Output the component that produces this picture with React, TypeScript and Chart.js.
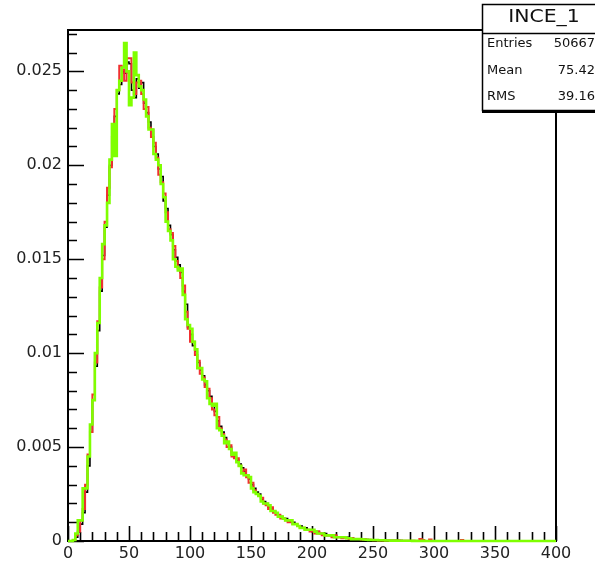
import React, { useEffect, useRef } from "react";
import { Chart, registerables } from "chart.js";

Chart.register(...registerables);

// ---------- data ----------
const BIN_WIDTH = 2;
const X_MIN = 0;
const X_MAX = 400;
const Y_MIN = 0;
const Y_MAX = 0.0272;

const xTickValues = [0, 50, 100, 150, 200, 250, 300, 350, 400];
const xTickLabels = ["0", "50", "100", "150", "200", "250", "300", "350", "400"];
const yTickValues = [0, 0.005, 0.01, 0.015, 0.02, 0.025];
const yTickLabels = ["0", "0.005", "0.01", "0.015", "0.02", "0.025"];

const statsTitle = "INCE_1";
const statsLabels = ["Entries", "Mean", "RMS"];
const statsValues = ["50667", "75.42", "39.16"];

const seriesBlack = [
  0, 0, 0, 0.00005, 0.0002, 0.0005, 0.0009, 0.0015, 0.0026, 0.004,
  0.0058, 0.0075, 0.0093, 0.0112, 0.0133, 0.0152, 0.0167, 0.0184, 0.02, 0.0213,
  0.0226, 0.0238, 0.0243, 0.025, 0.0249, 0.0255, 0.0254, 0.024, 0.0236, 0.0246,
  0.0241, 0.0244, 0.0233, 0.0228, 0.0223, 0.0219, 0.021, 0.0206, 0.0198, 0.0194,
  0.0181, 0.0177, 0.0168, 0.0163, 0.0155, 0.0151, 0.0147, 0.0143, 0.0133, 0.0126,
  0.0114, 0.011, 0.0104, 0.0101, 0.0095, 0.0091, 0.0088, 0.0083, 0.008, 0.0077,
  0.0073, 0.0069, 0.0064, 0.0061, 0.0058, 0.0055, 0.0052, 0.005, 0.0047, 0.0045,
  0.0043, 0.0041, 0.0039, 0.0037, 0.0035, 0.0033, 0.003, 0.0028, 0.0026, 0.0025,
  0.0022, 0.0021, 0.002, 0.0018, 0.0017, 0.0016, 0.0015, 0.0014, 0.0013, 0.0012,
  0.0012, 0.0011, 0.001, 0.001, 0.0009, 0.0008, 0.0008, 0.0007, 0.0007, 0.0006,
  0.0006, 0.0005, 0.0005, 0.0005, 0.0004, 0.0004, 0.0004, 0.0003, 0.0003, 0.0003,
  0.0003, 0.0002, 0.0002, 0.0002, 0.0002, 0.0002, 0.00015, 0.00015, 0.00012, 0.00012,
  0.0001, 0.0001, 0.00008, 0.00008, 0.00007, 0.00006, 0.00006, 0.00005, 0.00005, 0.00004,
  0.00004, 0.00003, 0.00003, 0.00003, 0.00002, 0.00002, 0.00002, 0.00002, 0.00001, 0.00001,
  0.00001, 0.00001, 0.00001, 0.00001, 0, 0.00001, 0, 0.00001, 0, 0,
  0, 0, 0, 0, 0, 0, 0, 0, 0, 0,
  0, 0, 0, 0, 0, 0, 0, 0, 0, 0,
  0, 0, 0, 0, 0, 0, 0, 0, 0, 0,
  0, 0, 0, 0, 0, 0, 0, 0, 0, 0,
  0, 0, 0, 0, 0, 0, 0, 0, 0, 0,
];

const seriesRed = [
  0, 0, 0, 0.00005, 0.0003, 0.0005, 0.0011, 0.0017, 0.003, 0.0046,
  0.0058, 0.0078, 0.0095, 0.0117, 0.0135, 0.015, 0.017, 0.0188, 0.0199, 0.0215,
  0.023, 0.024, 0.0253, 0.0251, 0.0245, 0.0257, 0.0257, 0.0244, 0.0238, 0.0244,
  0.0245, 0.0238, 0.023, 0.0231, 0.022, 0.0215, 0.0212, 0.0204, 0.0195, 0.0191,
  0.0185, 0.0175, 0.0166, 0.0164, 0.0157, 0.0149, 0.0145, 0.014, 0.0136, 0.0122,
  0.0113, 0.0106, 0.0106, 0.0099, 0.0096, 0.0089, 0.0087, 0.0082, 0.0081, 0.0076,
  0.007, 0.0067, 0.0066, 0.006, 0.0057, 0.0054, 0.005, 0.0051, 0.0045, 0.0044,
  0.0044, 0.004, 0.0037, 0.0038, 0.0034, 0.0031, 0.0031, 0.0027, 0.0025, 0.0024,
  0.0023, 0.002, 0.0019, 0.0017, 0.0018, 0.0015, 0.0014, 0.0014, 0.0012, 0.0012,
  0.0011, 0.001, 0.001, 0.0009, 0.0009, 0.0008, 0.0007, 0.0007, 0.0006, 0.0006,
  0.0005, 0.0005, 0.0004, 0.0005, 0.0004, 0.0003, 0.0003, 0.0003, 0.0003, 0.0002,
  0.0003, 0.0002, 0.0002, 0.00015, 0.0002, 0.00015, 0.0001, 0.00015, 0.0001, 0.0001,
  0.0001, 0.00008, 0.0001, 0.00006, 0.00006, 0.00005, 0.00004, 0.00005, 0.00003, 0.00004,
  0.00003, 0.00003, 0.00002, 0.00003, 0.00002, 0.00001, 0.00002, 0.00001, 0.00001, 0.00001,
  0.00001, 0, 0.00001, 0, 0, 0.0001, 0.00005, 0, 0, 0.00008,
  0, 0, 0, 0, 0, 0, 0, 0, 0, 0,
  0, 0, 0.00005, 0, 0, 0, 0, 0, 0, 0,
  0, 0, 0, 0, 0, 0, 0, 0, 0, 0,
  0, 0, 0, 0, 0, 0, 0, 0, 0, 0,
  0, 0, 0, 0, 0, 0, 0, 0, 0, 0,
];

const seriesGreen = [
  0, 0, 0, 0.00005, 0.0004, 0.0011, 0.0011, 0.0028, 0.0028, 0.0045,
  0.0062, 0.0075, 0.01, 0.0116, 0.014, 0.0158, 0.0168, 0.018, 0.0203, 0.0222,
  0.0205, 0.024, 0.0245, 0.0252, 0.0265, 0.025, 0.0232, 0.0236, 0.026, 0.0248,
  0.0242, 0.024, 0.0235, 0.0226, 0.0219, 0.0219, 0.0206, 0.0203, 0.02, 0.019,
  0.0183, 0.017, 0.0165, 0.016, 0.015, 0.0146, 0.0144, 0.0145, 0.0131, 0.0118,
  0.0115, 0.0113, 0.0106, 0.0102, 0.0092, 0.0092, 0.0086, 0.0085, 0.0076, 0.0073,
  0.0072, 0.0073, 0.006, 0.0059, 0.0056, 0.0052, 0.0053, 0.0049, 0.0046, 0.0047,
  0.0042, 0.004, 0.0036, 0.0035, 0.0035, 0.0034, 0.0028, 0.0026, 0.0025, 0.0024,
  0.0021, 0.002, 0.002, 0.0019, 0.0016, 0.0016, 0.0015, 0.0013, 0.0013, 0.0012,
  0.0011, 0.0011, 0.0011, 0.0009, 0.0009, 0.0008, 0.0007, 0.0007, 0.0006, 0.0006,
  0.0006, 0.0006, 0.0005, 0.0004, 0.0004, 0.0004, 0.0003, 0.0003, 0.0003, 0.0003,
  0.0002, 0.0002, 0.0002, 0.0002, 0.0002, 0.00015, 0.00015, 0.0001, 0.0001, 0.0001,
  0.0001, 0.00009, 0.00008, 0.00007, 0.00006, 0.00005, 0.00005, 0.00005, 0.00004, 0.00004,
  0.00004, 0.00003, 0.00003, 0.00002, 0.00002, 0.00002, 0.00001, 0.00001, 0.00001, 0.00001,
  0.00001, 0.00001, 0, 0.00001, 0, 0, 0.00001, 0, 0, 0,
  0, 0, 0, 0, 0, 0, 0, 0, 0, 0,
  0, 0, 0, 0, 0, 0, 0, 0, 0, 0,
  0, 0, 0, 0, 0, 0, 0, 0, 0, 0,
  0, 0, 0, 0, 0, 0, 0, 0, 0, 0,
  0, 0, 0, 0, 0, 0, 0, 0, 0, 0,
];

// ---------- helpers ----------
function toStepPoints(values: number[]) {
  const pts = values.map((v, i) => ({ x: X_MIN + i * BIN_WIDTH, y: v }));
  pts.push({ x: X_MIN + values.length * BIN_WIDTH, y: values[values.length - 1] });
  return pts;
}

const FONT = "'DejaVu Sans', 'Liberation Sans', Arial, sans-serif";

const rootFramePlugin = {
  id: "rootFrame",
  beforeDatasetsDraw(chart: any) {
    const { ctx, chartArea } = chart;
    const xs = chart.scales.x;
    const ys = chart.scales.y;
    const { left, right, top, bottom } = chartArea;
    ctx.save();
    ctx.strokeStyle = "#000";
    ctx.lineWidth = 2;
    ctx.strokeRect(left, top, right - left, bottom - top);
    ctx.lineWidth = 1.6;
    ctx.beginPath();
    for (let v = X_MIN; v <= X_MAX + 0.001; v += 10) {
      const px = Math.round(xs.getPixelForValue(v)) + 0.5;
      const len = Math.abs(v % 50) < 0.001 ? 15 : 9;
      ctx.moveTo(px, bottom);
      ctx.lineTo(px, bottom - len);
    }
    for (let k = 0; k <= 27; k++) {
      const v = k * 0.001;
      const py = Math.round(ys.getPixelForValue(v)) + 0.5;
      const len = k % 5 === 0 ? 16 : 9;
      ctx.moveTo(left, py);
      ctx.lineTo(left + len, py);
    }
    ctx.stroke();
    ctx.restore();
  },
  afterDraw(chart: any) {
    const { ctx } = chart;
    const bx = 482;
    const by = 4;
    const bw = 130;
    const bh = 106;
    ctx.save();
    ctx.fillStyle = "#fff";
    ctx.fillRect(bx, by, bw, bh);
    ctx.strokeStyle = "#000";
    ctx.lineWidth = 1.5;
    ctx.strokeRect(bx + 0.5, by + 0.5, bw, bh);
    ctx.beginPath();
    ctx.moveTo(bx, 33.5);
    ctx.lineTo(bx + bw, 33.5);
    ctx.stroke();
    ctx.lineWidth = 3;
    ctx.beginPath();
    ctx.moveTo(bx, by + bh + 1.5);
    ctx.lineTo(bx + bw, by + bh + 1.5);
    ctx.stroke();

    ctx.fillStyle = "#111";
    ctx.textBaseline = "middle";
    // title
    ctx.save();
    ctx.font = `17px ${FONT}`;
    ctx.textAlign = "center";
    ctx.translate(544, 18);
    ctx.scale(1.2, 1);
    ctx.fillText(statsTitle, 0, 0);
    ctx.restore();
    // rows
    ctx.font = `13px ${FONT}`;
    const rowY = [44, 71, 97];
    statsLabels.forEach((lab, i) => {
      ctx.textAlign = "left";
      ctx.fillText(lab, 487, rowY[i]);
      ctx.textAlign = "right";
      ctx.fillText(statsValues[i], 595, rowY[i]);
    });
    ctx.restore();
  },
};

export default function App() {
  const canvasRef = useRef<HTMLCanvasElement | null>(null);

  useEffect(() => {
    const canvas = canvasRef.current;
    if (!canvas) return;
    const common = {
      pointRadius: 0,
      fill: false,
      stepped: "after" as const,
      tension: 0,
      clip: 4,
      borderJoinStyle: "miter" as const,
    };
    const chart = new Chart(canvas, {
      type: "line",
      data: {
        datasets: [
          { ...common, label: "green", data: toStepPoints(seriesGreen), borderColor: "#7fff00", borderWidth: 2.6 },
          { ...common, label: "red", data: toStepPoints(seriesRed), borderColor: "#f03030", borderWidth: 2 },
          { ...common, label: "black", data: toStepPoints(seriesBlack), borderColor: "#000000", borderWidth: 1.6 },
        ],
      },
      options: {
        responsive: false,
        animation: false,
        devicePixelRatio: 1,
        parsing: false as any,
        normalized: true,
        layout: { padding: { left: 0, top: 30, right: 39, bottom: 0 } },
        plugins: {
          legend: { display: false },
          tooltip: { enabled: false },
          title: { display: false },
        },
        events: [],
        scales: {
          x: {
            type: "linear",
            min: X_MIN,
            max: X_MAX,
            grid: { display: false, drawTicks: false },
            border: { display: false },
            afterBuildTicks: (s: any) => {
              s.ticks = xTickValues.map((v) => ({ value: v }));
            },
            afterFit: (s: any) => {
              s.height = 21;
            },
            ticks: {
              autoSkip: false,
              maxRotation: 0,
              padding: 3,
              color: "#222",
              font: { family: FONT, size: 16 },
              callback: (_v: any, i: number) => xTickLabels[i],
            },
          },
          y: {
            type: "linear",
            min: Y_MIN,
            max: Y_MAX,
            grid: { display: false, drawTicks: false },
            border: { display: false },
            afterBuildTicks: (s: any) => {
              s.ticks = yTickValues.map((v) => ({ value: v }));
            },
            afterFit: (s: any) => {
              s.width = 68;
            },
            ticks: {
              autoSkip: false,
              padding: 6,
              color: "#222",
              font: { family: FONT, size: 16 },
              callback: (_v: any, i: number) => yTickLabels[i],
            },
          },
        },
      },
      plugins: [rootFramePlugin],
    });
    return () => chart.destroy();
  }, []);

  return (
    <div style={{ position: "absolute", left: 0, top: 0, width: 595, height: 562, background: "#fff" }}>
      <canvas ref={canvasRef} width={595} height={562} style={{ display: "block", width: 595, height: 562 }} />
    </div>
  );
}
